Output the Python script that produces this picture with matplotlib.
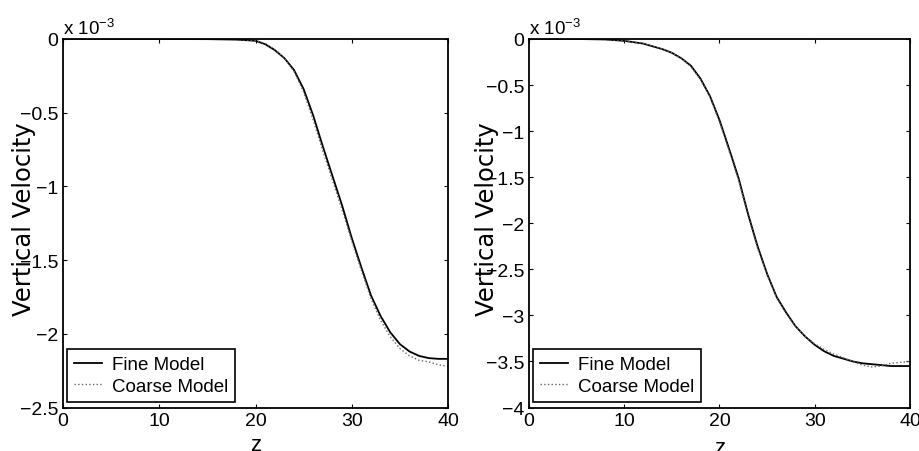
import matplotlib
matplotlib.use("Agg")
import matplotlib.pyplot as plt
from matplotlib.ticker import FuncFormatter, FixedLocator

plt.rcParams['font.family'] = ['Liberation Sans Narrow', 'Liberation Sans', 'DejaVu Sans']
plt.rcParams['mathtext.fontset'] = 'custom'
plt.rcParams['mathtext.rm'] = 'Liberation Sans'
plt.rcParams['mathtext.it'] = 'Liberation Sans:italic'
plt.rcParams['mathtext.bf'] = 'Liberation Sans:bold'

# ---------------- data (velocity in units of 1e-3) ----------------
z_left = [0, 5, 10, 15, 18, 20, 21, 22, 23, 24, 25, 26, 27, 28, 29, 30,
          31, 32, 33, 34, 35, 36, 37, 38, 39, 40]
fine_left = [0, 0, 0, -0.001, -0.004, -0.012, -0.035, -0.075, -0.13, -0.21,
             -0.34, -0.52, -0.73, -0.93, -1.13, -1.35, -1.55, -1.74, -1.88,
             -1.99, -2.07, -2.12, -2.15, -2.165, -2.17, -2.17]
coarse_left = [0, 0, 0, -0.001, -0.004, -0.01, -0.03, -0.07, -0.13, -0.22,
               -0.36, -0.55, -0.76, -0.96, -1.16, -1.37, -1.57, -1.76, -1.91,
               -2.02, -2.10, -2.15, -2.18, -2.19, -2.21, -2.22]

z_right = [0, 5, 8, 10, 12, 13, 14, 15, 16, 17, 18, 19, 20, 21, 22, 23, 24,
           25, 26, 27, 28, 29, 30, 31, 32, 33, 34, 35, 36, 37, 38, 39, 40]
fine_right = [0, 0, -0.005, -0.02, -0.05, -0.08, -0.11, -0.15, -0.21, -0.29,
              -0.43, -0.62, -0.88, -1.19, -1.51, -1.90, -2.25, -2.55, -2.80,
              -2.97, -3.12, -3.23, -3.32, -3.39, -3.44, -3.47, -3.50, -3.52,
              -3.53, -3.54, -3.55, -3.55, -3.55]
coarse_right = [0, 0, -0.005, -0.02, -0.05, -0.08, -0.11, -0.15, -0.21, -0.30,
                -0.44, -0.63, -0.90, -1.21, -1.53, -1.92, -2.27, -2.56, -2.81,
                -2.98, -3.12, -3.23, -3.31, -3.37, -3.42, -3.46, -3.50, -3.54,
                -3.56, -3.55, -3.52, -3.51, -3.50]

xticks = [0, 10, 20, 30, 40]
yticks_left = [0, -0.5, -1, -1.5, -2, -2.5]
yticks_right = [0, -0.5, -1, -1.5, -2, -2.5, -3, -3.5, -4]
legend_labels = ["Fine Model", "Coarse Model"]
xlabel = "z"
ylabel = "Vertical Velocity"
offset_label = r"x 10$^{-3}$"


def fmt(v, pos=None):
    s = "{:g}".format(v)
    if s == "-0":
        s = "0"
    return s.replace("-", "\u2212")


fig = plt.figure(figsize=(9.2, 4.52), dpi=100)
W, H = 920.0, 452.0

panels = [
    dict(rect=(63, 40, 448, 408.5), z=z_left, fine=fine_left, coarse=coarse_left,
         yticks=yticks_left, ylim=(-2.5, 0), ylab_x=-0.101, xlab_y=-0.116),
    dict(rect=(529, 40, 910, 408.5), z=z_right, fine=fine_right, coarse=coarse_right,
         yticks=yticks_right, ylim=(-4, 0), ylab_x=-0.1115, xlab_y=-0.124),
]

for p in panels:
    x0, y0, x1, y1 = p['rect']
    ax = fig.add_axes([x0 / W, 1 - y1 / H, (x1 - x0) / W, (y1 - y0) / H])
    ax.plot(p['z'], p['fine'], color='black', lw=1.3, label=legend_labels[0])
    ax.plot(p['z'], p['coarse'], color='#666666', lw=1.0, ls=':', label=legend_labels[1])
    ax.set_xlim(0, 40)
    ax.set_ylim(*p['ylim'])
    ax.xaxis.set_major_locator(FixedLocator(xticks))
    ax.yaxis.set_major_locator(FixedLocator(p['yticks']))
    ax.xaxis.set_major_formatter(FuncFormatter(fmt))
    ax.yaxis.set_major_formatter(FuncFormatter(fmt))
    ax.tick_params(direction='in', top=True, right=True, length=3.2, width=0.8,
                   labelsize=14, pad=3.5, colors='black')
    for s in ax.spines.values():
        s.set_linewidth(1.3)
        s.set_color('black')
    ax.set_ylabel(ylabel, family='DejaVu Sans', fontsize=17.5, va='center')
    ax.yaxis.set_label_coords(p['ylab_x'], 0.514)
    ax.set_xlabel(xlabel, fontsize=16, va='baseline')
    ax.xaxis.set_label_coords(0.5, p['xlab_y'])
    ax.text(0, 1.0136, offset_label, transform=ax.transAxes, fontsize=13.5,
            ha='left', va='baseline')
    leg = ax.legend(loc='lower left', bbox_to_anchor=(4 / (x1 - x0), 6 / (y1 - y0)),
                    borderaxespad=0, fontsize=13.5, handlelength=1.5, handletextpad=0.55,
                    borderpad=0.35, labelspacing=0.25, fancybox=False, framealpha=1,
                    edgecolor='black')
    leg.get_frame().set_linewidth(1.2)

fig.savefig("out.png", dpi=100)
